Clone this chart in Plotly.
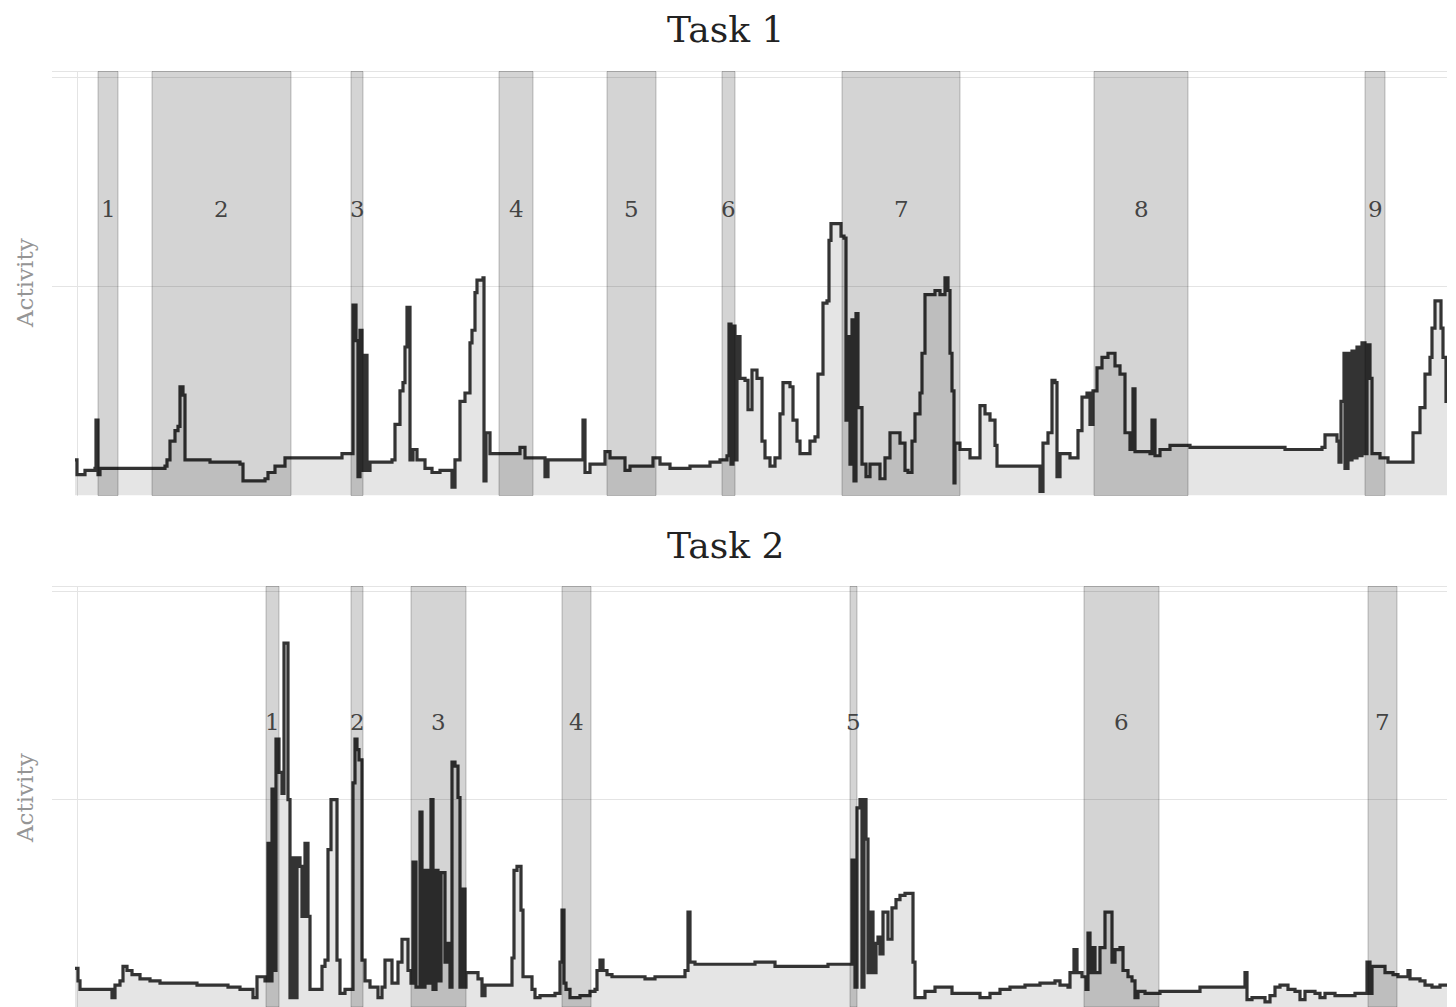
import plotly.graph_objects as go
from plotly.subplots import make_subplots

# ---------------- data ----------------
# Task 1: time (s) and activity
task1_time = [
    -2, 0, 8, 18, 19, 21, 23, 78, 88, 90,
    93, 98, 101, 103, 106, 108, 133, 163, 166, 188,
    191, 198, 208, 213, 265, 276, 279, 281, 283, 285,
    288, 290, 293, 315, 318, 323, 326, 328, 330, 333,
    336, 340, 348, 355, 363, 375, 378, 383, 388, 393,
    395, 398, 400, 406, 407, 409, 413, 443, 448, 468,
    471, 506, 508, 513, 528, 533, 548, 553, 576, 583,
    593, 613, 633, 643, 650, 652, 654, 656, 658, 660,
    663, 668, 671, 675, 680, 685, 688, 693, 698, 703,
    706, 713, 716, 720, 723, 733, 738, 741, 746, 750,
    752, 754, 761, 764, 767, 769, 771, 773, 775, 777,
    779, 781, 785, 789, 793, 803, 808, 813, 823, 828,
    831, 835, 838, 843, 845, 848, 858, 863, 868, 871,
    873, 875, 877, 878, 883, 893, 901, 903, 908, 913,
    918, 920, 963, 966, 971, 975, 978, 980, 983, 993,
    1001, 1005, 1010, 1013, 1016, 1020, 1025, 1031, 1038, 1043,
    1048, 1053, 1056, 1058, 1073, 1075, 1078, 1083, 1093, 1113,
    1208, 1245, 1248, 1260, 1262, 1264, 1267, 1268, 1271, 1273,
    1275, 1278, 1280, 1283, 1285, 1288, 1290, 1293, 1295, 1303,
    1311, 1336, 1343, 1348, 1353, 1355, 1358, 1363, 1364, 1366,
    1369, 1373,
]
task1_activity = [
    17, 10, 12, 13, 36, 10, 13, 13, 14, 17,
    26, 31, 33, 52, 48, 17, 16, 15, 7, 8,
    11, 14, 18, 18, 20, 91, 74, 9, 79, 12,
    67, 12, 16, 17, 34, 50, 54, 71, 90, 17,
    22, 17, 13, 11, 12, 4, 17, 45, 49, 73,
    79, 97, 103, 104, 7, 30, 20, 23, 18, 9,
    17, 36, 11, 15, 21, 18, 12, 14, 18, 15,
    13, 14, 16, 17, 19, 82, 15, 81, 17, 76,
    56, 55, 41, 60, 56, 26, 18, 14, 18, 39,
    54, 52, 36, 26, 20, 26, 28, 58, 92, 93,
    122, 130, 130, 124, 123, 36, 76, 15, 84, 7,
    87, 42, 15, 9, 15, 8, 18, 30, 25, 12,
    11, 26, 39, 49, 68, 96, 98, 96, 104, 98,
    68, 50, 6, 25, 22, 18, 18, 43, 39, 36,
    24, 14, 2, 25, 30, 55, 54, 9, 20, 18,
    31, 47, 49, 34, 50, 61, 66, 68, 62, 58,
    30, 22, 51, 21, 20, 36, 19, 22, 24, 23,
    22, 23, 29, 26, 16, 45, 68, 13, 68, 17,
    69, 18, 71, 19, 73, 20, 72, 56, 20, 18,
    16, 30, 42, 58, 66, 80, 93, 93, 80, 66,
    45, 36,
]
task1_band_start = [21, 75, 274, 422, 530, 645, 765, 1017, 1288]
task1_band_end = [41, 214, 286, 456, 579, 658, 883, 1111, 1308]
task1_band_labels = ["1", "2", "3", "4", "5", "6", "7", "8", "9"]

# Task 2: time (s) and activity
task2_time = [
    -2, 1, 3, 35, 38, 43, 46, 50, 55, 63,
    73, 83, 120, 151, 163, 176, 180, 188, 191, 193,
    195, 197, 199, 202, 205, 207, 211, 213, 216, 218,
    220, 223, 225, 228, 231, 233, 245, 248, 251, 254,
    258, 260, 263, 268, 276, 278, 280, 282, 285, 288,
    293, 301, 305, 308, 315, 321, 325, 331, 334, 336,
    339, 343, 345, 348, 351, 354, 356, 359, 361, 364,
    368, 371, 373, 375, 378, 381, 383, 385, 388, 389,
    401, 405, 408, 435, 437, 440, 444, 446, 455, 458,
    463, 478, 483, 485, 487, 489, 493, 503, 513, 518,
    520, 523, 526, 530, 535, 568, 578, 608, 611, 613,
    618, 678, 698, 751, 775, 778, 780, 783, 785, 787,
    789, 791, 794, 796, 799, 801, 803, 806, 811, 815,
    819, 823, 828, 836, 838, 843, 848, 858, 875, 903,
    913, 923, 933, 948, 963, 978, 983, 991, 993, 997,
    1000, 1005, 1009, 1011, 1013, 1015, 1018, 1023, 1028, 1035,
    1038, 1043, 1046, 1051, 1055, 1058, 1061, 1068, 1083, 1123,
    1136, 1168, 1170, 1175, 1188, 1193, 1198, 1203, 1211, 1218,
    1223, 1228, 1238, 1243, 1248, 1258, 1278, 1290, 1293, 1295,
    1308, 1316, 1321, 1331, 1333, 1343, 1348, 1355, 1363, 1373,
]
task2_activity = [
    19, 13, 9, 5, 11, 13, 20, 18, 16, 14,
    13, 12, 11, 10, 9, 5, 15, 13, 79, 13,
    105, 18, 129, 113, 103, 175, 100, 5, 72, 5,
    72, 68, 44, 79, 44, 9, 20, 23, 76, 100,
    100, 23, 7, 9, 108, 129, 124, 119, 23, 13,
    10, 5, 10, 23, 12, 22, 33, 18, 12, 70,
    10, 94, 10, 66, 12, 100, 9, 66, 13, 65,
    22, 31, 10, 118, 116, 101, 10, 57, 10, 17,
    14, 6, 11, 24, 66, 68, 47, 15, 9, 5,
    6, 7, 22, 47, 12, 9, 5, 6, 8, 9,
    18, 23, 18, 16, 15, 14, 15, 18, 46, 22,
    21, 22, 20, 21, 71, 10, 96, 100, 10, 100,
    81, 17, 46, 17, 31, 34, 26, 46, 33, 48,
    52, 54, 55, 22, 5, 5, 8, 10, 7, 5,
    7, 9, 10, 11, 12, 13, 11, 10, 17, 28,
    17, 15, 9, 36, 17, 29, 17, 29, 46, 22,
    28, 29, 18, 15, 13, 5, 8, 7, 8, 10,
    10, 17, 4, 5, 3, 6, 10, 11, 9, 8,
    4, 8, 7, 5, 7, 6, 7, 22, 7, 20,
    17, 16, 15, 18, 14, 13, 11, 10, 11, 10,
]
task2_band_start = [189, 274, 334, 485, 773, 1007, 1291]
task2_band_end = [202, 286, 389, 514, 780, 1082, 1320]
task2_band_labels = ["1", "2", "3", "4", "5", "6", "7"]

panel_titles = ["Task 1", "Task 2"]
y_title = "Activity"
label_level = 137

# ---------------- figure ----------------
FONT = "DejaVu Serif"
GRID = "#e4e4e4"

fig = make_subplots(rows=2, cols=1)

panels = [
    (task1_time, task1_activity, task1_band_start, task1_band_end, task1_band_labels),
    (task2_time, task2_activity, task2_band_start, task2_band_end, task2_band_labels),
]

for i, (t, a, bs, be, bl) in enumerate(panels):
    row = i + 1
    xr = "x" if row == 1 else "x2"
    yr = "y" if row == 1 else "y2"
    fig.add_trace(
        go.Scatter(
            x=t, y=a, mode="lines",
            line=dict(color="#333333", width=3.2, shape="hv"),
            fill="tozeroy", fillcolor="rgba(0,0,0,0.10)",
            showlegend=False, hoverinfo="skip",
        ),
        row=row, col=1,
    )
    for s, e, lab in zip(bs, be, bl):
        fig.add_shape(
            type="rect", xref=xr, yref=yr + " domain",
            x0=s, x1=e, y0=0, y1=1,
            fillcolor="rgba(0,0,0,0.17)",
            line=dict(color="rgba(0,0,0,0.22)", width=1),
            layer="above",
        )
        fig.add_annotation(
            xref=xr, yref=yr, x=(s + e) / 2, y=label_level,
            text=lab, showarrow=False,
            font=dict(family=FONT, size=23, color="#444444"),
        )
    # thin line along top of plot area
    fig.add_shape(
        type="line", xref=xr + " domain", yref=yr + " domain",
        x0=0, x1=1, y0=1, y1=1,
        line=dict(color=GRID, width=1.2), layer="below",
    )

H = 1007
fig.update_layout(
    width=1456, height=H,
    margin=dict(l=52, r=9, t=0, b=0),
    paper_bgcolor="white", plot_bgcolor="white",
    font=dict(family=FONT),
    showlegend=False,
)

fig.update_xaxes(range=[-25, 1370], tickvals=[0], showticklabels=False,
                 showgrid=True, gridcolor=GRID, gridwidth=1.2,
                 zeroline=False, showline=False, ticks="")
fig.update_yaxes(tickvals=[0, 100, 200], showticklabels=False,
                 showgrid=True, gridcolor=GRID, gridwidth=1.2,
                 zeroline=False, showline=False, ticks="")

fig.update_layout(
    xaxis=dict(domain=[0, 1]),
    xaxis2=dict(domain=[0, 1]),
    yaxis=dict(domain=[1 - 495.5 / H, 1 - 71.5 / H], range=[0, 202.7]),
    yaxis2=dict(domain=[0, 1 - 586.5 / H], range=[0.5, 202.2]),
)

plot_w = 1456 - 52 - 9
for title, ypix in zip(panel_titles, [29, 545]):
    fig.add_annotation(
        xref="paper", yref="paper",
        x=(725 - 52) / plot_w, y=1 - ypix / H,
        xanchor="center", yanchor="middle",
        text=title, showarrow=False,
        font=dict(family=FONT, size=36, color="#222222"),
    )

for ypix in [283, 798]:
    fig.add_annotation(
        xref="paper", yref="paper",
        x=(25 - 52) / plot_w, y=1 - ypix / H,
        xanchor="center", yanchor="middle",
        text=y_title, textangle=-90, showarrow=False,
        font=dict(family=FONT, size=23, color="#959595"),
    )

fig.write_html("out.html")
